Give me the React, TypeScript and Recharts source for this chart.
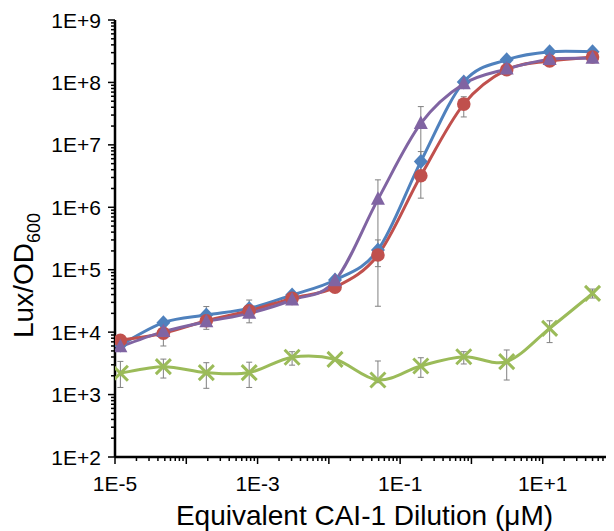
import { ErrorBar, Label, Line, LineChart, XAxis, YAxis } from "recharts";

const FONT = "'Liberation Sans', Arial, sans-serif";
const BLUE = "#4F81BD";
const RED = "#C0504D";
const PURPLE = "#8064A2";
const GREEN = "#9BBB59";
const BAR = "#808080";

// 4-fold dilution steps, µM
const doses = [0.0000119, 0.0000477, 0.000191, 0.000763, 0.00305, 0.0122, 0.0488, 0.195, 0.781, 3.125, 12.5, 50];

const diamondVals = [6200, 14200, 18800, 24000, 39400, 68400, 207000, 5.4e6, 1.02e8, 2.3e8, 3.1e8, 3.1e8];
const circleVals = [7400, 9600, 15200, 22000, 34800, 52300, 172000, 3.2e6, 4.5e7, 1.6e8, 2.2e8, 2.55e8];
const triangleVals = [5850, 10200, 14700, 20000, 32700, 66700, 1.34e6, 2.2e7, 9.5e7, 1.64e8, 2.34e8, 2.43e8];
const crossVals = [2200, 2800, 2250, 2250, 3970, 3670, 1710, 2870, 4040, 3370, 11500, 41700];

// error bar ends [low, high]; null where no bar shows
const diamondBars = [null, null, [11100, 25700], null, null, null, [112000, 300000], [3.0e6, 7.8e6], null, null, null, null];
const circleBars = [null, [6000, 13000], null, [14100, 32700], null, null, null, null, [2.8e7, 5.9e7], null, null, null];
const triangleBars = [null, null, null, null, null, null, [26000, 2.75e6], [1.4e6, 4.1e7], null, null, null, null];
const crossBars = [
  [1300, 3400], [1840, 3700], [1260, 3240], [1300, 3300], [2960, 4860], null,
  [1550, 3450], [1890, 3890], [3090, 4860], [1710, 5180], [6800, 15200], [35200, 49000],
];

const yTicks = [1e2, 1e3, 1e4, 1e5, 1e6, 1e7, 1e8, 1e9];
const yTickLabels = ["1E+2", "1E+3", "1E+4", "1E+5", "1E+6", "1E+7", "1E+8", "1E+9"];
const xDecades = [1e-5, 1e-4, 1e-3, 1e-2, 1e-1, 1, 10, 100];
const xLabelTicks = [1e-5, 1e-3, 1e-1, 10];
const xTickLabels = ["1E-5", "1E-3", "1E-1", "1E+1"];

const withMinors = (decades: number[]) => {
  const out: number[] = [];
  decades.forEach((d, i) => {
    out.push(d);
    if (i < decades.length - 1) for (let m = 2; m <= 9; m++) out.push(d * m);
  });
  return out;
};
const xTicks = withMinors(xDecades);
const yAllTicks = withMinors(yTicks);

const same = (a: number, b: number) => Math.abs(a - b) <= Math.abs(b) * 1e-6;
const isDecade = (v: number) => Math.abs(Math.log10(v) - Math.round(Math.log10(v))) < 1e-6;

const errOf = (v: number, b: number[] | null) => (b ? [v - b[0], b[1] - v] : null);

const rows = doses.map((x, i) => ({
  x,
  diamond: diamondVals[i],
  diamondErr: errOf(diamondVals[i], diamondBars[i]),
  circle: circleVals[i],
  circleErr: errOf(circleVals[i], circleBars[i]),
  triangle: triangleVals[i],
  triangleErr: errOf(triangleVals[i], triangleBars[i]),
  cross: crossVals[i],
  crossErr: errOf(crossVals[i], crossBars[i]),
}));

// Excel-style smoothed line (Bezier through points, 1/6 tangents)
const smoothCurve = (context: any) => {
  let pts: number[][] = [];
  return {
    areaStart() {},
    areaEnd() {},
    lineStart() {
      pts = [];
    },
    point(x: number, y: number) {
      pts.push([+x, +y]);
    },
    lineEnd() {
      if (!pts.length) return;
      context.moveTo(pts[0][0], pts[0][1]);
      for (let i = 0; i < pts.length - 1; i++) {
        const p0 = pts[i - 1] || pts[i];
        const p1 = pts[i];
        const p2 = pts[i + 1];
        const p3 = pts[i + 2] || p2;
        context.bezierCurveTo(
          p1[0] + (p2[0] - p0[0]) / 6,
          p1[1] + (p2[1] - p0[1]) / 6,
          p2[0] - (p3[0] - p1[0]) / 6,
          p2[1] - (p3[1] - p1[1]) / 6,
          p2[0],
          p2[1]
        );
      }
    },
  };
};

const ok = (p: any) => Number.isFinite(p.cx) && Number.isFinite(p.cy);

const diamondDot = (p: any) =>
  ok(p) ? (
    <path key={p.index} d={`M${p.cx},${p.cy - 7.5}L${p.cx + 7},${p.cy}L${p.cx},${p.cy + 7.5}L${p.cx - 7},${p.cy}Z`} fill={BLUE} />
  ) : (
    <g key={p.index} />
  );
const circleDot = (p: any) => (ok(p) ? <circle key={p.index} cx={p.cx} cy={p.cy} r={6.8} fill={RED} /> : <g key={p.index} />);
const triangleDot = (p: any) =>
  ok(p) ? (
    <path key={p.index} d={`M${p.cx},${p.cy - 8}L${p.cx + 7},${p.cy + 5.5}L${p.cx - 7},${p.cy + 5.5}Z`} fill={PURPLE} />
  ) : (
    <g key={p.index} />
  );
const crossDot = (p: any) =>
  ok(p) ? (
    <path
      key={p.index}
      d={`M${p.cx - 7.5},${p.cy - 7.5}L${p.cx + 7.5},${p.cy + 7.5}M${p.cx - 7.5},${p.cy + 7.5}L${p.cx + 7.5},${p.cy - 7.5}`}
      stroke={GREEN}
      strokeWidth={3}
    />
  ) : (
    <g key={p.index} />
  );

const XTick = (props: any) => {
  const { x, y, payload } = props;
  const v = payload.value;
  const idx = xLabelTicks.findIndex((t) => same(v, t));
  return (
    <g>
      <line x1={x} y1={y} x2={x} y2={y + (isDecade(v) ? 7 : 4)} stroke="#000" strokeWidth={1.5} />
      {idx >= 0 && (
        <text x={x} y={y + 34} textAnchor="middle" fontSize={21} fontFamily={FONT} fill="#000">
          {xTickLabels[idx]}
        </text>
      )}
    </g>
  );
};

const YTick = (props: any) => {
  const { x, y, payload } = props;
  const v = payload.value;
  const idx = yTicks.findIndex((t) => same(v, t));
  return (
    <g>
      <line x1={x} y1={y} x2={x - (isDecade(v) ? 7 : 4)} y2={y} stroke="#000" strokeWidth={1.5} />
      {idx >= 0 && (
        <text x={x - 14} y={y + 7.5} textAnchor="end" fontSize={21} fontFamily={FONT} fill="#000">
          {yTickLabels[idx]}
        </text>
      )}
    </g>
  );
};

export default function App() {
  return (
    <div style={{ width: 606, height: 523 }}>
      <LineChart width={606} height={523} data={rows} margin={{ top: 12, right: 0, bottom: 0, left: 0 }}>
        <XAxis
          dataKey="x"
          type="number"
          scale="log"
          domain={[1e-5, 100]}
          allowDataOverflow
          ticks={xTicks}
          interval={0}
          tick={<XTick />}
          tickLine={false}
          tickSize={0}
          tickMargin={0}
          height={74}
          axisLine={{ stroke: "#000", strokeWidth: 2.5 }}
        >
          <Label
            content={(p: any) => (
              <text
                x={p.viewBox.x + p.viewBox.width / 2}
                y={p.viewBox.y + 68}
                textAnchor="middle"
                fontSize={28}
                fontFamily={FONT}
                fill="#000"
              >
                Equivalent CAI-1 Dilution (μM)
              </text>
            )}
          />
        </XAxis>
        <YAxis
          type="number"
          scale="log"
          domain={[1e2, 1e9]}
          allowDataOverflow
          ticks={yAllTicks}
          interval={0}
          tick={<YTick />}
          tickLine={false}
          tickSize={0}
          tickMargin={0}
          width={107}
          axisLine={{ stroke: "#000", strokeWidth: 2.5 }}
        >
          <Label
            content={() => (
              <text transform="translate(25, 330) rotate(-90)" fontSize={28} fontFamily={FONT} fill="#000">
                Lux/OD
                <tspan fontSize={18} dy={7}>
                  600
                </tspan>
              </text>
            )}
          />
        </YAxis>
        <Line dataKey="diamond" stroke={BLUE} strokeWidth={3} type={smoothCurve as any} dot={diamondDot} activeDot={false} isAnimationActive={false}>
          <ErrorBar dataKey="diamondErr" direction="y" width={3} stroke={BAR} strokeWidth={1} />
        </Line>
        <Line dataKey="circle" stroke={RED} strokeWidth={3} type={smoothCurve as any} dot={circleDot} activeDot={false} isAnimationActive={false}>
          <ErrorBar dataKey="circleErr" direction="y" width={3} stroke={BAR} strokeWidth={1} />
        </Line>
        <Line dataKey="cross" stroke={GREEN} strokeWidth={3} type={smoothCurve as any} dot={crossDot} activeDot={false} isAnimationActive={false}>
          <ErrorBar dataKey="crossErr" direction="y" width={3} stroke={BAR} strokeWidth={1} />
        </Line>
        <Line dataKey="triangle" stroke={PURPLE} strokeWidth={3} type={smoothCurve as any} dot={triangleDot} activeDot={false} isAnimationActive={false}>
          <ErrorBar dataKey="triangleErr" direction="y" width={3} stroke={BAR} strokeWidth={1} />
        </Line>
      </LineChart>
    </div>
  );
}
